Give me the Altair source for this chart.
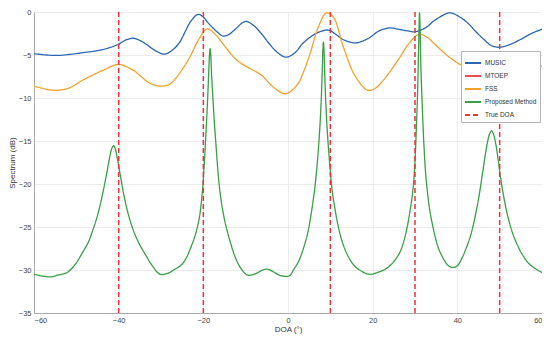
import altair as alt
import pandas as pd

# ---- data ----
music_x = [-60, -57, -54.4, -51, -48, -45.1, -42.5, -40.1, -38.3, -36.6, -35, -33.5, -31.3, -29.2, -27.5,
           -25.7, -24.3, -23, -21.2, -20, -18.8, -17, -15.3, -13.9, -12.6, -10.1, -8.3, -6.4, -4.4, -2.5,
           -0.5, 1.5, 3.7, 6.8, 9.5, 11.3, 13, 15.7, 17.5, 19.2, 21.5, 23.9, 26, 28.3, 30.0, 32.6, 34.7,
           38.2, 40.3, 42.5, 44.4, 46.3, 48, 49.8, 52.3, 54.9, 57.5, 60]
music_y = [-4.85, -5.0, -5.05, -4.9, -4.7, -4.5, -4.2, -3.75, -3.25, -3.05, -3.3, -3.75, -4.5, -4.9, -4.5,
           -3.6, -2.3, -1.1, -0.27, -0.6, -1.3, -2.2, -2.8, -2.6, -2.07, -1.1, -1.5, -2.45, -3.7, -4.7,
           -5.25, -4.8, -3.55, -2.45, -2.1, -2.6, -3.2, -3.6, -3.4, -3.0, -2.2, -1.85, -2.0, -2.2, -2.3,
           -1.8, -0.95, -0.1, -0.5, -1.3, -2.3, -3.2, -3.9, -4.1, -3.8, -3.2, -2.5, -2.0]

fss_x = [-60, -57, -54.4, -51.5, -49, -46, -43.6, -40.1, -36.6, -34.5, -32.7, -30, -28, -26.5, -23.4, -21.1,
         -19.1, -17.2, -15.5, -14.1, -12.5, -11, -8.5, -6.35, -3.3, -0.6, 2.2, 3.8, 5.3, 7.2, 9.1, 10.7, 13,
         15.7, 18.8, 20.5, 22.3, 26.2, 28.5, 30.9, 32.8, 34.7, 38.6, 42.5, 46.3, 49.8, 53.3, 56.5, 60]
fss_y = [-8.6, -9.0, -9.1, -8.8, -8.07, -7.3, -6.76, -6.1, -6.76, -7.6, -8.26, -8.63, -8.4, -7.7, -5.44, -3.2,
         -1.95, -2.6, -3.6, -4.5, -5.4, -6.0, -6.7, -7.32, -8.8, -9.5, -8.45, -6.8, -4.7, -1.7, -0.1, -0.56, -3.94,
         -7.3, -9.1, -8.9, -8.07, -5.44, -3.7, -2.6, -2.9, -3.75, -5.44, -6.4, -5.44, -5.0, -5.44, -5.9, -6.3]

prop_x = [-60, -58, -56, -54.4, -52.2, -50.2, -48.7, -47.2, -46.2, -45.2, -44.4, -43.6, -42.8, -42.0, -41.6,
          -41.2, -40.8, -40.4, -39.6, -38.8, -38.0, -37.2, -36.2, -35.2, -33.7, -32.2, -30.2, -28.5, -27,
          -24.8, -22.5, -21.5, -20.9, -20.4, -20.1, -19.8, -19.5, -19.25, -19.0, -18.75, -18.55, -18.4, -18.25,
          -18.05, -17.7, -17.4, -17.05, -16.7, -16.3, -15.8, -15.1, -14.4, -13.6, -12.4, -11, -9.5, -7.5, -6,
          -4.8, -3.5, -2, 0.2, 1.4, 2.6, 3.7, 4.7, 5.65, 6.3, 6.8, 7.2, 7.55, 7.85, 8.1, 8.24, 8.37, 8.5, 8.65,
          8.9, 9.2, 9.55, 9.95, 10.4, 11.1, 11.9, 13, 14.2, 15.5, 16.9, 19.2, 21.6, 23, 24.5, 25.9, 26.65,
          27.5, 28.2, 28.8, 29.4, 29.8, 30.1, 30.3, 30.53, 30.75, 30.95, 31.07, 31.2, 31.4, 31.7, 31.95, 32.2,
          32.55, 33.0, 33.5, 34.2, 35.0, 35.9, 37.9, 39.2, 40.2, 41.3, 42.3, 43.3, 44.8, 46, 46.6, 47.1, 47.6,
          48.07, 48.6, 49.1, 49.6, 50.2, 51.0, 51.8, 52.9, 54.1, 55.6, 57.2, 60]
prop_y = [-30.5, -30.7, -30.8, -30.6, -30.3, -29.3, -28.1, -26.8, -25.5, -24.0, -22.5, -20.7, -18.7, -16.6,
          -15.85, -15.55, -15.9, -16.8, -19.0, -21.2, -23.0, -24.4, -25.8, -26.9, -28.2, -29.4, -30.5, -30.4,
          -30.0, -29.2, -26.8, -25.2, -23.8, -21.8, -20.1, -17.8, -15.2, -12.8, -10.3, -7.3, -5.0, -4.25, -5.0,
          -7.3, -10.3, -12.8, -15.2, -17.6, -19.9, -21.9, -23.9, -25.4, -26.8, -28.6, -29.9, -30.6, -30.4,
          -30.0, -29.9, -30.2, -30.6, -30.7, -29.9, -28.9, -27.4, -25.6, -22.9, -20.6, -18.2, -15.8, -13.2,
          -10.2, -6.8, -4.4, -3.5, -4.4, -6.8, -10.2, -13.2, -15.8, -18.2, -20.6, -22.9, -25.0, -27.0, -28.4,
          -29.4, -30.0, -30.5, -30.2, -29.9, -29.3, -28.4, -27.7, -26.4, -24.9, -23.2, -21.2, -19.0, -16.3,
          -13.8, -10.7, -6.5, -2.0, -0.1, -2.0, -6.5, -10.7, -13.8, -16.3, -19.0, -21.2, -23.1, -24.9, -26.6,
          -27.9, -29.5, -29.7, -29.4, -28.4, -27.2, -25.7, -22.3, -18.6, -16.6, -15.2, -14.2, -13.8, -14.3,
          -15.4, -17.0, -19.2, -21.6, -23.5, -25.5, -27.0, -28.4, -29.4, -30.3]

true_doa = [-40, -20, 10, 30, 50]

series_names = ["MUSIC", "MTOEP", "FSS", "Proposed Method", "True DOA"]
series_colors = ["#2a66b3", "#f04a55", "#f2a22c", "#3a9e46", "#e8343a"]
series_dash = [[1, 0], [1, 0], [1, 0], [1, 0], [5, 3]]

x_ticks = [-60, -40, -20, 0, 20, 40, 60]
y_ticks = [0, -5, -10, -15, -20, -25, -30, -35]

# ---- tables ----
rows = []
for name, xs, ys in [("MUSIC", music_x, music_y), ("FSS", fss_x, fss_y),
                     ("Proposed Method", prop_x, prop_y)]:
    for i, (a, b) in enumerate(zip(xs, ys)):
        rows.append({"series": name, "doa": a, "val": b, "order": i})
lines_df = pd.DataFrame(rows)
doa_df = pd.DataFrame({"doa": true_doa, "series": ["True DOA"] * len(true_doa)})


def make_legend():
    return alt.Legend(title=None, orient="none", legendX=427, legendY=39,
                      symbolType="stroke", symbolSize=256, symbolStrokeWidth=1.8,
                      labelFontSize=6.5, labelColor="#333", rowPadding=0, labelOffset=3,
                      fillColor="white", strokeColor="#b5b5b5", padding=3,
                      labelFont="Liberation Sans", cornerRadius=0, labelLimit=100)


color = alt.Color("series:N", scale=alt.Scale(domain=series_names, range=series_colors),
                  legend=make_legend())
dash = alt.StrokeDash("series:N", scale=alt.Scale(domain=series_names, range=series_dash),
                      legend=make_legend())

xscale = alt.Scale(domain=[-60, 60], nice=False, zero=False)
yscale = alt.Scale(domain=[-35, 0], nice=False, zero=False)

axis_style = dict(ticks=False, labelPadding=3, labelFontSize=7.5, titleFontSize=8,
                  titleFontWeight="normal", titlePadding=2, labelColor="#444", titleColor="#333",
                  gridColor="#ececec", domainColor="#aaaaaa", labelFont="Liberation Sans",
                  titleFont="Liberation Sans")
xaxis = alt.Axis(title="DOA (°)", values=x_ticks, **axis_style)
yaxis = alt.Axis(title="Spectrum (dB)", values=y_ticks, **axis_style)

lines = alt.Chart(lines_df).mark_line(strokeWidth=1.3, interpolate="catmull-rom", clip=True).encode(
    x=alt.X("doa:Q", scale=xscale, axis=xaxis),
    y=alt.Y("val:Q", scale=yscale, axis=yaxis),
    color=color,
    strokeDash=dash,
    order="order:Q",
    detail="series:N",
)

rules = alt.Chart(doa_df).mark_rule(strokeWidth=1.5).encode(
    x=alt.X("doa:Q", scale=xscale),
    color=color,
    strokeDash=dash,
)

chart = alt.layer(lines, rules).properties(
    width=534, height=326,
    autosize=alt.AutoSizeParams(type="fit", contains="padding"),
    padding=0,
).configure_view(stroke="#aaaaaa", strokeWidth=1).configure(background="white")

chart.save("out.html", embed_options={"renderer": "svg", "actions": False})
